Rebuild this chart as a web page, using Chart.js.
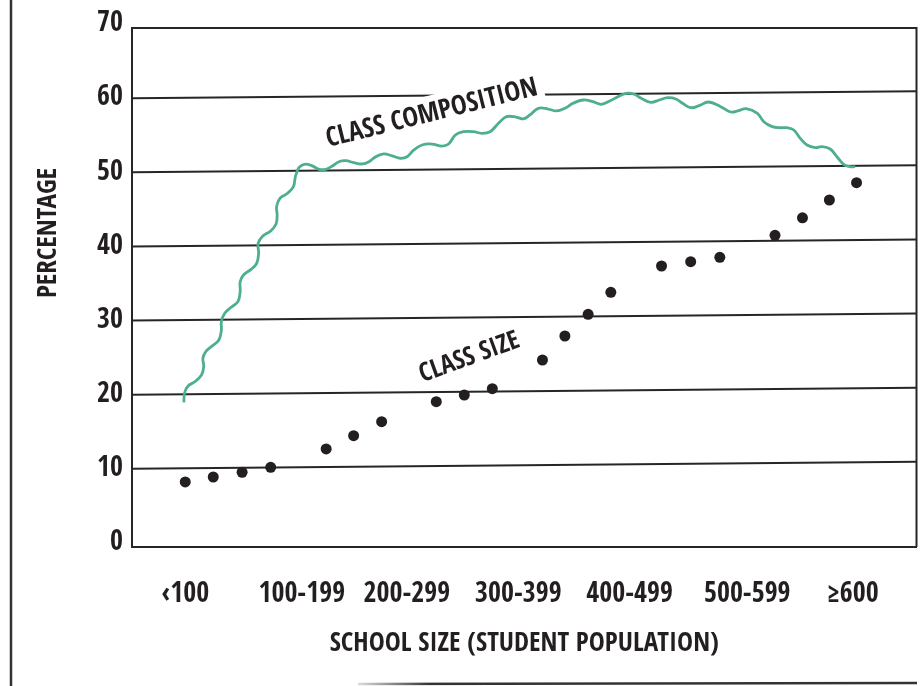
<!DOCTYPE html>
<html>
<head>
<meta charset="utf-8">
<script src="https://cdn.jsdelivr.net/npm/chart.js@4.4.1/dist/chart.umd.min.js"></script>
<style>
  html, body { margin: 0; padding: 0; background: #fff; }
  #wrap { width: 922px; height: 686px; }
</style>
</head>
<body>
<div id="wrap"><canvas id="chart" width="922" height="686"></canvas></div>
<script>
// x axis: school size groups, placed along a linear "step" scale
const schoolSizes = ['‹100', '100-199', '200-299', '300-399', '400-499', '500-599', '≥600']
const labelPos = [0, 4.16, 7.91, 11.89, 15.86, 20.06, 23.83]
const yTicks = [0, 10, 20, 30, 40, 50, 60, 70]

// class size (dots)
const sizeX = [0, 1, 2.03, 3.05, 5.03, 6.01, 7.01, 8.96, 9.96, 10.96, 12.75, 13.55, 14.38, 15.19, 17, 18.04, 19.08, 21.05, 22.03, 22.99, 23.96]
const sizeY = [8.77, 9.44, 10.08, 10.75, 13.22, 15.01, 16.9, 19.6, 20.5, 21.35, 25.22, 28.46, 31.39, 34.35, 37.9, 38.48, 39.07, 42.04, 44.4, 46.8, 49.14]

// class composition (hand drawn squiggle, traced)
const compX = [-0.05, -0.02, 0.10, 0.34, 0.58, 0.66, 0.63, 0.73, 0.93, 1.20, 1.29, 1.29, 1.41, 1.64, 1.88, 1.96, 1.96, 2.08, 2.35, 2.55,
  2.62, 2.60, 2.77, 3.06, 3.24, 3.28, 3.26, 3.38, 3.65, 3.86, 3.93, 3.99, 4.07, 4.25, 4.49, 4.78, 5.02, 5.25, 5.49, 5.73,
  6.02, 6.32, 6.56, 6.80, 7.09, 7.39, 7.68, 7.92, 8.16, 8.45, 8.81, 9.16, 9.40, 9.64, 9.93, 10.29, 10.58, 10.88, 11.18, 11.47,
  11.83, 12.07, 12.30, 12.60, 12.95, 13.25, 13.55, 13.84, 14.20, 14.55, 14.85, 15.15, 15.44, 15.74, 16.03, 16.27, 16.62, 16.92, 17.22, 17.51,
  17.75, 18.05, 18.34, 18.67, 19.11, 19.47, 19.76, 20.02, 20.42, 20.65, 20.95, 21.24, 21.48, 21.72, 21.95, 22.19, 22.49, 22.73, 23.02, 23.26,
  23.50, 23.73, 23.91]
const compY = [19.52, 20.81, 21.71, 22.29, 23.20, 24.32, 25.45, 26.34, 27.02, 27.92, 29.27, 30.39, 31.52, 32.33, 33.09, 34.43, 35.78, 36.69, 37.45, 38.26,
  39.61, 40.96, 41.95, 42.66, 43.56, 44.78, 45.90, 47.03, 47.71, 48.60, 49.94, 50.62, 51.21, 51.62, 51.48, 50.94, 50.94, 51.39, 51.97, 52.10,
  51.83, 51.66, 51.97, 52.64, 53.01, 52.74, 52.43, 52.64, 53.55, 54.22, 54.35, 54.08, 54.35, 55.57, 56.01, 56.01, 55.80, 56.01, 57.15, 58.04,
  57.96, 57.75, 58.27, 59.17, 59.07, 58.81, 59.17, 59.84, 60.29, 60.06, 59.71, 60.15, 60.73, 61.19, 61.06, 60.52, 59.98, 60.29, 60.60, 60.42,
  59.84, 59.25, 59.52, 60.02, 59.39, 58.67, 58.87, 59.12, 58.50, 57.36, 56.69, 56.55, 56.55, 56.24, 55.12, 54.22, 53.86, 53.99, 53.68, 52.64,
  51.62, 51.29, 51.29]

const INK = '#231f20'
const GREEN = '#4daf8b'
const FONT = "'Open Sans Condensed', 'Open Sans', 'DejaVu Sans Condensed', sans-serif"
const WEIGHT = 800

// extra drawing: slanted rules, box edges, page frame, in-chart labels
const decorPlugin = {
  id: 'decor',
  beforeDatasetsDraw(chart) {
    const { ctx, chartArea: a, scales: { x, y } } = chart
    ctx.save()
    ctx.strokeStyle = '#262626'
    ctx.lineWidth = 2

    // hand ruled grid lines, they rise a bit to the right
    yTicks.slice(1, -1).forEach(v => {
      const py = y.getPixelForValue(v)
      ctx.beginPath()
      ctx.moveTo(a.left, py - 4)
      ctx.lineTo(a.right, py - 11)
      ctx.stroke()
    })

    ctx.beginPath()
    ctx.moveTo(a.left, a.top)
    ctx.lineTo(a.right, a.top)
    ctx.lineTo(a.right, a.bottom)
    ctx.stroke()

    // page frame
    ctx.lineWidth = 2.5
    ctx.strokeStyle = '#333'
    ctx.beginPath()
    ctx.moveTo(11, 0)
    ctx.lineTo(11, chart.height)
    ctx.stroke()
    const grad = ctx.createLinearGradient(358, 0, 430, 0)
    grad.addColorStop(0, '#ddd')
    grad.addColorStop(1, '#333')
    ctx.strokeStyle = grad
    ctx.beginPath()
    ctx.moveTo(358, 684)
    ctx.lineTo(917, 683)
    ctx.stroke()

    // y title
    ctx.fillStyle = INK
    ctx.font = `${WEIGHT} 27px ${FONT}`
    ctx.textAlign = 'center'
    ctx.textBaseline = 'middle'
    ctx.save()
    ctx.translate(49, 233)
    ctx.rotate(-Math.PI / 2)
    ctx.fillText('PERCENTAGE', 0, 0)
    ctx.restore()

    // series labels
    const drawLabel = (text, xv, yv, deg, size, knockout) => {
      ctx.save()
      ctx.translate(x.getPixelForValue(xv), y.getPixelForValue(yv))
      ctx.rotate(deg * Math.PI / 180)
      ctx.font = `${WEIGHT} ${size}px ${FONT}`
      if (knockout) {
        const w = ctx.measureText(text).width
        ctx.fillStyle = '#fff'
        ctx.fillRect(-w / 2 - 6, -size / 2 - 5, w + 12, size + 10)
      }
      ctx.fillStyle = INK
      ctx.fillText(text, 0, 0)
      ctx.restore()
    }
    drawLabel('CLASS COMPOSITION', 8.8, 58.4, -14, 27, true)
    drawLabel('CLASS SIZE', 10.15, 25.5, -20, 26, false)

    ctx.restore()
  }
}

new Chart(document.getElementById('chart'), {
  type: 'scatter',
  data: {
    datasets: [
      {
        label: 'Class composition',
        data: compX.map((v, i) => ({ x: v, y: compY[i] })),
        showLine: true,
        borderColor: GREEN,
        borderWidth: 2.8,
        pointRadius: 0,
        tension: 0.4,
        fill: false
      },
      {
        label: 'Class size',
        data: sizeX.map((v, i) => ({ x: v, y: sizeY[i] })),
        backgroundColor: INK,
        borderColor: INK,
        borderWidth: 0,
        pointRadius: 5.5
      }
    ]
  },
  options: {
    responsive: false,
    animation: false,
    layout: { padding: { top: 28, right: 2, bottom: 0, left: 0 } },
    plugins: {
      legend: { display: false },
      tooltip: { enabled: false }
    },
    scales: {
      x: {
        type: 'linear',
        min: -1.9,
        max: 26.1,
        afterBuildTicks: scale => { scale.ticks = labelPos.map(v => ({ value: v })) },
        afterFit: scale => { scale.height = 139 },
        grid: { display: false, drawTicks: false },
        border: { display: true, color: '#262626', width: 2 },
        ticks: {
          autoSkip: false,
          maxRotation: 0,
          padding: 31,
          color: INK,
          font: { family: FONT, size: 28, weight: WEIGHT },
          callback: (v, i) => schoolSizes[i]
        },
        title: {
          display: true,
          text: 'SCHOOL SIZE (STUDENT POPULATION)',
          color: INK,
          font: { family: FONT, size: 27, weight: WEIGHT },
          padding: { top: 4, bottom: 26 }
        }
      },
      y: {
        min: 0,
        max: 70,
        afterBuildTicks: scale => { scale.ticks = yTicks.map(v => ({ value: v })) },
        afterFit: scale => { scale.width = 132 },
        grid: { display: false, drawTicks: false },
        border: { display: true, color: '#262626', width: 2 },
        ticks: {
          padding: 9,
          labelOffset: -4,
          color: INK,
          font: { family: FONT, size: 28, weight: WEIGHT }
        }
      }
    }
  },
  plugins: [decorPlugin]
})
</script>
</body>
</html>
